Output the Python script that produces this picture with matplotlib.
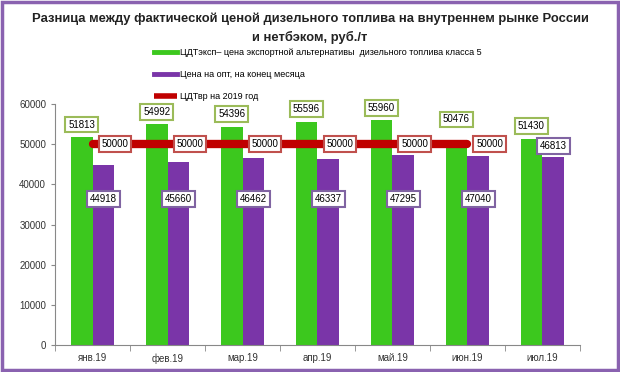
import numpy as np
import matplotlib.pyplot as plt
from matplotlib.patches import Rectangle
from matplotlib.lines import Line2D

plt.rcParams['font.family'] = ['Liberation Sans', 'DejaVu Sans']

months = ["янв.19", "фев.19", "мар.19", "апр.19", "май.19", "июн.19", "июл.19"]
export_price = [51813, 54992, 54396, 55596, 55960, 50476, 51430]
wholesale_price = [44918, 45660, 46462, 46337, 47295, 47040, 46813]
target_price = [50000, 50000, 50000, 50000, 50000, 50000, np.nan]

GREEN = "#3CC81E"
PURPLE = "#7A35A8"
RED = "#C00000"

fig = plt.figure(figsize=(6.2, 3.72), dpi=100)
fig.patch.set_facecolor("white")
fig.patches.append(Rectangle((0.003, 0.005), 0.994, 0.99, transform=fig.transFigure,
                             fill=False, edgecolor="#8A62B0", linewidth=2.5))

ax = fig.add_axes([0.089, 0.073, 0.846, 0.647])
x = np.arange(len(months))
w = 0.29

ax.bar(x - w / 2, export_price, w, color=GREEN, zorder=2)
ax.bar(x + w / 2, wholesale_price, w, color=PURPLE, zorder=2)
ax.plot(x, target_price, color=RED, linewidth=6, solid_capstyle="round", zorder=3)

box_kw = dict(fontsize=7, ha="center", va="center", zorder=5)

# green labels above green bars (June is lifted to clear the red label)
for i, v in enumerate(export_price):
    off = 5700 if i == 5 else 3100
    ax.text(x[i] - w / 2, v + off, str(v),
            bbox=dict(boxstyle="square,pad=0.3", fc="white", ec="#9BBB59", lw=1.5), **box_kw)

# purple labels inside purple bars, July above
for i, v in enumerate(wholesale_price):
    y = v + 2700 if i == 6 else 36300
    ax.text(x[i] + w / 2, y, str(v),
            bbox=dict(boxstyle="square,pad=0.3", fc="white", ec="#8064A2", lw=1.5), **box_kw)

# red labels on the line
for i, v in enumerate(target_price):
    if np.isnan(v):
        continue
    ax.text(x[i] + 0.3, v, str(int(v)),
            bbox=dict(boxstyle="square,pad=0.3", fc="white", ec="#C0504D", lw=1.5), **box_kw)

ax.set_xlim(-0.5, len(months) - 0.5)
ax.set_ylim(0, 60000)
ax.set_yticks(np.arange(0, 60001, 10000))
ax.set_xticks(x)
ax.set_xticklabels(months)
ax.set_xticks(np.arange(-0.5, len(months), 1), minor=True)
ax.tick_params(axis="x", which="major", length=0, labelsize=7, colors="#333333", pad=6)
ax.tick_params(axis="x", which="minor", length=4, color="#888888")
ax.tick_params(axis="y", labelsize=7, colors="#333333", length=3, color="#888888")
for s in ["top", "right"]:
    ax.spines[s].set_visible(False)
for s in ["left", "bottom"]:
    ax.spines[s].set_color("#888888")

handles = [Line2D([], [], color=GREEN, lw=3.5),
           Line2D([], [], color=PURPLE, lw=3.5),
           Line2D([], [], color=RED, lw=4, solid_capstyle="butt")]
labels = ["ЦДТэксп– цена экспортной альтернативы  дизельного топлива класса 5",
          "Цена на опт, на конец месяца",
          "ЦДТвр на 2019 год"]
fig.legend(handles, labels, loc="upper left", bbox_to_anchor=(0.235, 0.893), frameon=False,
           handlelength=2.6, handletextpad=0.3, labelspacing=1.45,
           prop={"family": ["Liberation Sans Narrow", "Liberation Sans"], "size": 6.5})

fig.text(0.5, 0.95, "Разница между фактической ценой дизельного топлива на внутреннем рынке России",
         ha="center", va="center", fontsize=9.4, fontweight="bold", color="#222222")
fig.text(0.5, 0.898, "и нетбэком, руб./т",
         ha="center", va="center", fontsize=9.4, fontweight="bold", color="#222222")

fig.savefig("out.png", dpi=100)
